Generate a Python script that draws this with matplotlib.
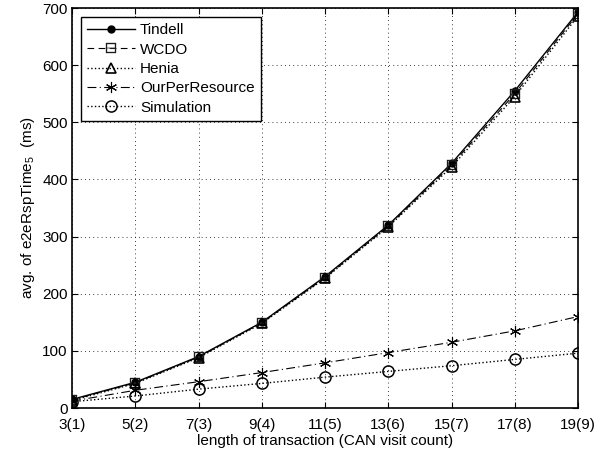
import numpy as np
import matplotlib
matplotlib.use("Agg")
import matplotlib.pyplot as plt

plt.rcParams['font.family'] = ['Liberation Sans', 'DejaVu Sans']
plt.rcParams['mathtext.fontset'] = 'custom'
plt.rcParams['mathtext.rm'] = 'Liberation Sans'
plt.rcParams['mathtext.it'] = 'Liberation Sans'

labels = ["3(1)", "5(2)", "7(3)", "9(4)", "11(5)", "13(6)", "15(7)", "17(8)", "19(9)"]
tindell = [15, 45, 90, 150, 230, 320, 428, 555, 693]
wcdo = [14, 44, 89, 149, 228, 318, 425, 550, 690]
henia = [13, 43, 88, 148, 227, 317, 422, 545, 686]
our_per_resource = [12, 31, 46, 62, 79, 97, 115, 135, 160]
simulation = [11, 21, 33, 43, 54, 64, 74, 85, 96]

x = np.arange(len(labels))

fig = plt.figure(figsize=(6.03, 4.51), dpi=100)
ax = fig.add_axes([72 / 603, 43 / 451, 506 / 603, 400 / 451])

ax.plot(x, tindell, '-', color='black', lw=1, marker='o', ms=5, label='Tindell')
ax.plot(x, wcdo, '--', color='black', lw=0.8, marker='$\u229F$', ms=7, mec='#444444',
        mew=0.3, label='WCDO', dashes=(6, 4))
ax.plot(x, henia, ':', color='black', lw=1, marker='^', ms=7, mfc='none', mew=1.2,
        label='Henia')
ax.plot(x, our_per_resource, '-.', color='black', lw=0.8, marker=(6, 2, 0), ms=8, mew=0.8,
        label='OurPerResource', dashes=(8, 3, 1, 3))
ax.plot(x, simulation, ':', color='black', lw=1, marker='o', ms=8, mfc='none', mew=1.1,
        label='Simulation')

ax.set_xlim(0, 8)
ax.set_ylim(0, 700)
ax.set_xticks(x)
ax.set_xticklabels(labels)
ax.set_yticks(range(0, 701, 100))
ax.tick_params(direction='in', top=True, right=True, labelsize=11, length=4)
ax.tick_params(axis='x', pad=7)
ax.tick_params(axis='y', pad=3)
ax.grid(True, linestyle=(0, (1, 4)), color='black', lw=0.6)
for s in ax.spines.values():
    s.set_linewidth(1.2)

ax.set_xlabel("length of transaction (CAN visit count)", fontsize=11, labelpad=2)
ax.set_ylabel("avg. of e2eRspTime$_5$  (ms)", fontsize=11)

leg = ax.legend(loc='upper left', fontsize=11, fancybox=False, edgecolor='black',
                framealpha=1, handlelength=3.1, handletextpad=0.35,
                borderaxespad=0.6, labelspacing=0.35, borderpad=0.4)
leg.get_frame().set_linewidth(1)

fig.savefig("out.png", dpi=100)
